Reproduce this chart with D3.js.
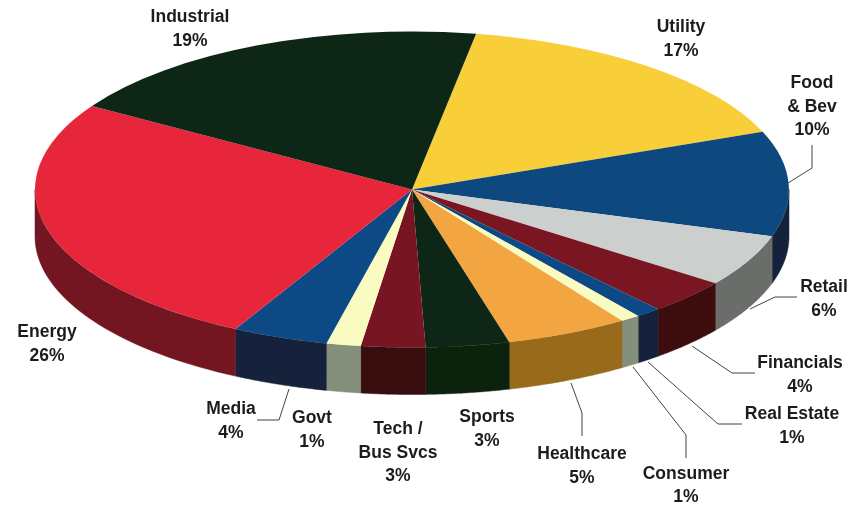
<!DOCTYPE html>
<html><head><meta charset="utf-8">
<script src="https://cdnjs.cloudflare.com/ajax/libs/d3/7.8.5/d3.min.js"></script>
<style>html,body{margin:0;padding:0;background:#fff}svg{display:block}</style></head>
<body><svg id="c" width="850" height="506"></svg>
<script>
// Data, clockwise from the Utility slice
const categories = ["Utility","Food & Bev","Retail","Financials","Real Estate","Consumer","Healthcare","Sports","Tech / Bus Svcs","Govt","Media","Energy","Industrial"];
const labelPercents = [17,10,6,4,1,1,5,3,3,1,4,26,19];
const drawnShares = [16.3,10.75,5.33,3.56,1.08,0.83,5.25,3.58,2.75,1.47,4.11,26.1,18.84];
const topColors = ["#F8CF38","#0A487F","#CBCFCD","#7A1220","#0D4A85","#FAFBC0","#F3A542","#0C2712","#771320","#FAFBC0","#0B4884","#E8283A","#0C2815"];
const sideColors = ["#8A7420","#14233A","#6A6D6A","#3C0D11","#14223A","#848F7C","#986A1A","#0C2411","#390F11","#848F7C","#14223A","#731520","#0C2815"];

// Layout
const cx = 412, cy = 189.5, rx = 377, ry = 158, depth = 47, startDeg = 9.8;
const labelLayout = {
  "Utility":[681,32], "Food & Bev":[812,88], "Retail":[824,292], "Financials":[800,368],
  "Real Estate":[792,419], "Consumer":[686,478.5], "Healthcare":[582,459], "Sports":[487,422],
  "Tech / Bus Svcs":[398,434], "Govt":[312,423], "Media":[231,414], "Energy":[47,337], "Industrial":[190,22]
};
const labelLines = {"Food & Bev":["Food","& Bev"],"Tech / Bus Svcs":["Tech /","Bus Svcs"]};
const leaders = [
  [[812,145],[812,168],[788,183]],
  [[797,297],[775,297],[750,309]],
  [[755,373],[732,373],[692,346]],
  [[742,424],[718,424],[648,362]],
  [[686,458],[686,435],[633,367]],
  [[582,436],[582,413],[571,383]],
  [[257,420],[279,420],[289,389]]
];

const svg = d3.select("#c");
// Slight softening, as in the scanned reference
svg.append("defs").append("filter").attr("id","soft")
  .attr("x","-2%").attr("y","-2%").attr("width","104%").attr("height","104%")
  .append("feGaussianBlur").attr("stdDeviation",0.4);
const root = svg.append("g").attr("filter","url(#soft)");

const x = d3.scaleLinear().domain([-1,1]).range([cx-rx,cx+rx]);
const y = d3.scaleLinear().domain([-1,1]).range([cy-ry,cy+ry]);
const start = startDeg*Math.PI/180;
const pie = d3.pie().sort(null).startAngle(start).endAngle(start+2*Math.PI);
const slices = pie(drawnShares).map((d,i)=>({...d,i}));

// Point on the rim for a clockwise-from-north angle
const rimX = a => x(Math.sin(a)), rimY = a => y(-Math.cos(a));
const line = d3.line();

// Front wall
const lo = Math.PI/2, hi = 3*Math.PI/2;
root.append("g").selectAll("path")
  .data(slices.filter(d=>d.endAngle>lo && d.startAngle<hi))
  .join("path")
  .attr("d",d=>{
    const a0=Math.max(d.startAngle,lo), a1=Math.min(d.endAngle,hi);
    const as=d3.range(0,41).map(k=>a0+(a1-a0)*k/40);
    const top=as.map(a=>[rimX(a),rimY(a)]);
    const bot=as.slice().reverse().map(a=>[rimX(a),rimY(a)+depth]);
    return line(top.concat(bot))+"Z";
  })
  .attr("fill",d=>sideColors[d.i])
  .attr("stroke",d=>sideColors[d.i]).attr("stroke-width",0.5);

// Top face
const arc = d3.arc().innerRadius(0).outerRadius(1);
root.append("g").attr("transform",`translate(${cx},${cy}) scale(${rx},${ry})`)
  .selectAll("path").data(slices).join("path")
  .attr("d",arc)
  .attr("fill",d=>topColors[d.i]);

// Leader lines
root.append("g").selectAll("path").data(leaders).join("path")
  .attr("d",line).attr("fill","none").attr("stroke","#444").attr("stroke-width",1);

// Labels
const lab = root.append("g").attr("font-family","'Liberation Sans',Arial,sans-serif")
  .attr("font-weight","700").attr("font-size",17.5).attr("fill","#1c1c1c").attr("text-anchor","middle");
categories.forEach((c,i)=>{
  const [lx,ly]=labelLayout[c];
  const rows=(labelLines[c]||[c]).concat(labelPercents[i]+"%");
  rows.forEach((r,k)=>lab.append("text").attr("x",lx).attr("y",ly+k*23.7).text(r));
});
</script></body></html>
